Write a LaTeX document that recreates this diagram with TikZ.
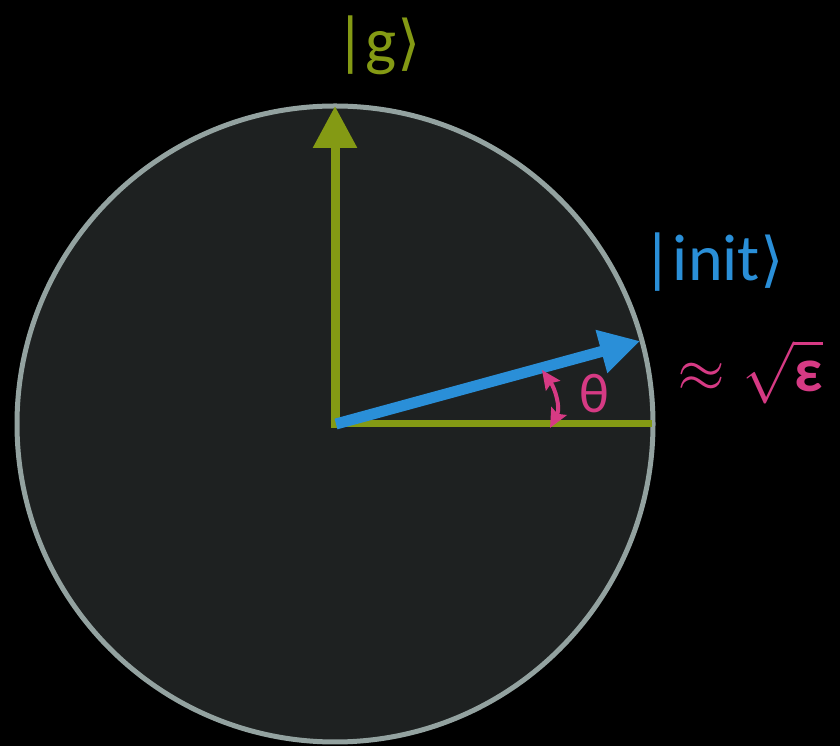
\documentclass[tikz,border=0pt]{standalone}
\usepackage{fontspec}
\usepackage{unicode-math}
\setmainfont{Carlito}
\setmathfont{Latin Modern Math}
\newfontfamily\symfont{DejaVu Sans}
\usetikzlibrary{arrows.meta}
\definecolor{bg}{HTML}{000000}
\definecolor{disc}{HTML}{1E2121}
\definecolor{rim}{HTML}{93A2A0}
\definecolor{olive}{HTML}{849A14}
\definecolor{skyb}{HTML}{2A8FD8}
\definecolor{pinkm}{HTML}{D63A84}
\tikzset{
  lbl/.style={inner sep=0pt, font=\fontsize{66}{70}\selectfont},
  greenarrow/.style={draw=olive, line width=9pt, -{Triangle[length=42pt,width=42pt]}},
  bluearrow/.style={draw=skyb, line width=11pt, -{Triangle[length=40pt,width=42pt]}},
  pinkarc/.style={draw=pinkm, line width=4pt, {Stealth[length=19pt,width=17pt,inset=3pt]}-{Stealth[length=19pt,width=17pt,inset=3pt]}},
}
\begin{document}
\begin{tikzpicture}[x=1pt,y=1pt]
\fill[bg] (0,0) rectangle (840,746);
\useasboundingbox (0,0) rectangle (840,746);
\coordinate (O) at (335,322);
\node[draw=rim, fill=disc, line width=5pt, circle, minimum size=636pt, inner sep=0pt] (disk) at (O) {};
\coordinate (gtip) at (335,640);
\coordinate (xend) at (652,322);
\coordinate (itip) at (640,405);
\coordinate (atop) at (542,376);
\coordinate (abot) at (550,318);
\draw[olive, line width=7pt] (330.5,322) -- (xend);
\draw[greenarrow] (335,318) -- (gtip);
\draw[bluearrow] (336,322) -- (itip);
\draw[pinkarc] (atop) to[out=-55,in=62] (abot);
\node[lbl, text=pinkm, font=\fontsize{56}{60}\selectfont] (theta) at (594,352) {θ};
\node[lbl, text=olive] (g) at (378,701) {|g{\symfont\fontsize{60}{60}\selectfont⟩}};
\node[lbl, text=skyb] (init) at (713,484) {|init{\symfont\fontsize{60}{60}\selectfont⟩}};
\node[lbl, text=pinkm, font=\fontsize{62}{66}\selectfont] (eps) at (750,374) {$\approx\sqrt{\mbox{\bfseries ε}}$};
\end{tikzpicture}
\end{document}
